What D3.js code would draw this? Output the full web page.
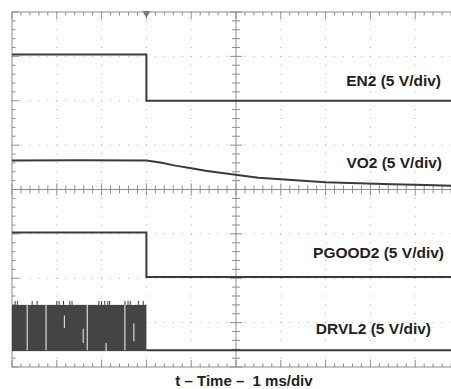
<!DOCTYPE html>
<html>
<head>
<meta charset="utf-8">
<script src="https://cdn.jsdelivr.net/npm/d3@7"></script>
<style>
  html, body { margin: 0; padding: 0; background: #fff; }
  svg { display: block; }
  text { font-family: "Liberation Sans", Arial, sans-serif; font-weight: bold; fill: #222; }
</style>
</head>
<body>
<svg id="chart" width="451" height="389"></svg>
<script>
// ---------- data (time in ms, voltage in V) ----------
const majorTimes = [-3, -2, -1, 0, 1, 2, 3, 4, 5, 6, 7];
const majorDivs = [-4, -3, -2, -1, 0, 1, 2, 3, 4];
const minorPerDiv = 5;

const en2Time = [-3, 0, 0, 7];
const en2Volts = [5.2, 5.2, 0, 0];

const vo2Time = [-3, -1.5, 0, 0.31, 0.65, 1.0, 1.32, 1.65, 2.5, 3.25, 4.0, 4.73, 5.48, 6.23, 7];
const vo2Volts = [3.28, 3.3, 3.27, 3.03, 2.69, 2.40, 2.12, 1.90, 1.33, 1.07, 0.81, 0.70, 0.59, 0.51, 0.40];

const pgood2Time = [-3, 0, 0, 7];
const pgood2Volts = [5.0, 5.0, 0, 0];

// DRVL2: switching burst envelope, then low
const drvl2BurstTime = [-3, 0];
const drvl2BurstVolts = [0, 5.1];
const drvl2Time = [0, 7];
const drvl2Volts = [0, 0];
// lighter streaks inside the burst: [time, fromV, toV]
const drvl2Streaks = [
  [-2.66, 0, 5.1], [-2.24, 0, 5.1], [-1.83, 2.5, 3.9], [-1.41, 0.8, 2.4],
  [-1.32, 0, 5.1], [-0.90, -0.2, 0.8], [-0.48, 0, 5.1], [-0.28, 1.0, 3.0]
];
// spikes above the burst top
const drvl2Spikes = [-2.93, -2.88, -2.55, -2.44, -2.0, -1.95, -1.85, -1.71, -1.66, -1.06, -1.0, -0.93, -0.86, -0.82, -0.48, -0.41, -0.36, -0.18, -0.07];

const channels = [
  { name: "EN2", label: "EN2 (5 V/div)", ground: 2.0 },
  { name: "VO2", label: "VO2 (5 V/div)", ground: 0 },
  { name: "PGOOD2", label: "PGOOD2 (5 V/div)", ground: -1.97 },
  { name: "DRVL2", label: "DRVL2 (5 V/div)", ground: -3.62 }
];
const voltsPerDiv = 5;
const xLabel = "t \u2013 Time \u2013  1 ms/div";

// ---------- layout ----------
const svg = d3.select("#chart");
const x = d3.scaleLinear().domain([-3, 7]).range([12, 460]);
const y = d3.scaleLinear().domain([-4, 4]).range([367, 12]);
const gridColor = "#8e8e8e";
const traceColor = "#3a3a3a";

svg.append("rect").attr("width", 451).attr("height", 389).attr("fill", "#fff");

const grid = svg.append("g");

// dotted grid along major lines
majorTimes.slice(1, -1).forEach(t => {
  if (t === 2) return;
  for (let k = 0; k <= 8 * minorPerDiv; k++) {
    const yy = y(-4 + k / minorPerDiv);
    grid.append("rect").attr("x", x(t) - 0.5).attr("y", yy - 0.5).attr("width", 1).attr("height", 1).attr("fill", "#b0b0b0");
  }
});
majorDivs.slice(1, -1).forEach(d => {
  if (d === 0) return;
  for (let k = 0; k <= 10 * minorPerDiv; k++) {
    const xx = x(-3 + k / minorPerDiv);
    grid.append("rect").attr("x", xx - 0.5).attr("y", y(d) - 0.5).attr("width", 1).attr("height", 1).attr("fill", "#b0b0b0");
  }
});

// borders
grid.append("rect").attr("x", x(-3)).attr("y", y(4)).attr("width", x(7) - x(-3)).attr("height", y(-4) - y(4))
  .attr("fill", "none").attr("stroke", gridColor).attr("stroke-width", 1);

// center cross
grid.append("line").attr("x1", x(-3)).attr("x2", x(7)).attr("y1", y(0)).attr("y2", y(0)).attr("stroke", gridColor);
grid.append("line").attr("x1", x(2)).attr("x2", x(2)).attr("y1", y(4)).attr("y2", y(-4)).attr("stroke", gridColor);

// ticks
for (let k = 0; k <= 10 * minorPerDiv; k++) {
  const t = -3 + k / minorPerDiv;
  const major = k % minorPerDiv === 0;
  const xx = x(t);
  const len = major ? 7 : 3.5;
  grid.append("line").attr("x1", xx).attr("x2", xx).attr("y1", y(4)).attr("y2", y(4) + len).attr("stroke", gridColor);
  grid.append("line").attr("x1", xx).attr("x2", xx).attr("y1", y(-4)).attr("y2", y(-4) - len).attr("stroke", gridColor);
  const cl = major ? 6 : 4;
  grid.append("line").attr("x1", xx).attr("x2", xx).attr("y1", y(0) - cl).attr("y2", y(0) + cl).attr("stroke", gridColor);
}
for (let k = 0; k <= 8 * minorPerDiv; k++) {
  const d = -4 + k / minorPerDiv;
  const major = k % minorPerDiv === 0;
  const yy = y(d);
  const len = major ? 7 : 3.5;
  grid.append("line").attr("x1", x(-3)).attr("x2", x(-3) + len).attr("y1", yy).attr("y2", yy).attr("stroke", gridColor);
  const cl = major ? 6 : 4;
  grid.append("line").attr("x1", x(2) - cl).attr("x2", x(2) + cl).attr("y1", yy).attr("y2", yy).attr("stroke", gridColor);
}

// trigger marker
svg.append("path")
  .attr("d", `M${x(0) - 4},${y(4) - 1} L${x(0) + 4},${y(4) - 1} L${x(0)},${y(4) + 6} Z`)
  .attr("fill", "#7a7a7a");

// ---------- traces ----------
function yv(ch, v) { return y(ch.ground + v / voltsPerDiv); }
function trace(ch, ts, vs) {
  const pts = ts.map((t, i) => [t, vs[i]]);
  const line = d3.line().x(d => x(d[0])).y(d => yv(ch, d[1])).curve(d3.curveLinear);
  svg.append("path").datum(pts).attr("d", line)
    .attr("fill", "none").attr("stroke", traceColor).attr("stroke-width", 2);
}
trace(channels[0], en2Time, en2Volts);
trace(channels[1], vo2Time, vo2Volts);
trace(channels[2], pgood2Time, pgood2Volts);

// DRVL2 burst
const dr = channels[3];
svg.append("rect")
  .attr("x", x(drvl2BurstTime[0])).attr("width", x(drvl2BurstTime[1]) - x(drvl2BurstTime[0]))
  .attr("y", yv(dr, drvl2BurstVolts[1])).attr("height", yv(dr, drvl2BurstVolts[0]) - yv(dr, drvl2BurstVolts[1]) + 1)
  .attr("fill", "#444");
drvl2Streaks.forEach(s => {
  svg.append("line").attr("x1", x(s[0])).attr("x2", x(s[0]))
    .attr("y1", yv(dr, s[2])).attr("y2", yv(dr, s[1]))
    .attr("stroke", "#d8d8d8").attr("stroke-width", 1.2);
});
drvl2Spikes.forEach(t => {
  svg.append("line").attr("x1", x(t)).attr("x2", x(t))
    .attr("y1", yv(dr, 5.1)).attr("y2", yv(dr, 5.1) - 4)
    .attr("stroke", traceColor).attr("stroke-width", 1);
});
trace(dr, drvl2Time, drvl2Volts);

// ---------- labels ----------
const labelPos = [[441, 85.5], [442, 168], [444, 257.5], [431, 334]];
channels.forEach((ch, i) => {
  svg.append("text").attr("x", labelPos[i][0]).attr("y", labelPos[i][1])
    .attr("text-anchor", "end").attr("font-size", 15.5).text(ch.label);
});
svg.append("text").attr("x", 244).attr("y", 385.5).attr("text-anchor", "middle")
  .attr("font-size", 15).attr("xml:space", "preserve").style("white-space", "pre").text(xLabel);
</script>
</body>
</html>
